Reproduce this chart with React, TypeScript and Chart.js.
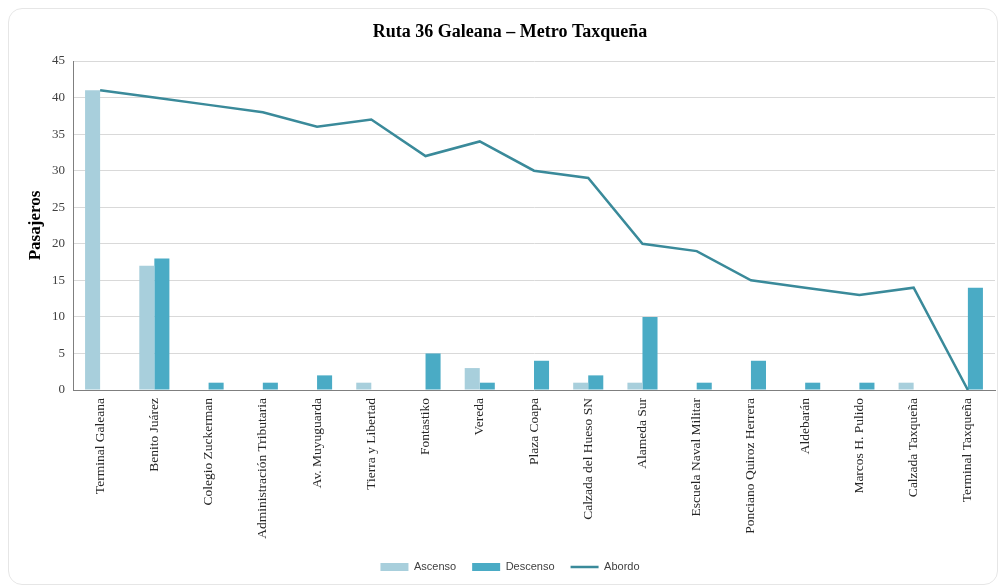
import React, { useEffect, useRef } from "react";
import { Chart, registerables } from "chart.js";

Chart.register(...registerables);

const categories = [
  "Terminal Galeana",
  "Benito Juárez",
  "Colegio Zuckerman",
  "Administración Tributaria",
  "Av. Muyuguarda",
  "Tierra y Libertad",
  "Fontastiko",
  "Vereda",
  "Plaza Coapa",
  "Calzada del Hueso SN",
  "Alameda Sur",
  "Escuela Naval Militar",
  "Ponciano Quiroz Herrera",
  "Aldebarán",
  "Marcos H. Pulido",
  "Calzada Taxqueña",
  "Terminal Taxqueña",
];

const ascenso = [41, 17, 0, 0, 0, 1, 0, 3, 0, 1, 1, 0, 0, 0, 0, 1, 0];
const descenso = [0, 18, 1, 1, 2, 0, 5, 1, 4, 2, 10, 1, 4, 1, 1, 0, 14];
const abordo = [41, 40, 39, 38, 36, 37, 32, 34, 30, 29, 20, 19, 15, 14, 13, 14, 0];

const yTicks = [0, 5, 10, 15, 20, 25, 30, 35, 40, 45];

export default function App() {
  const ref = useRef<HTMLCanvasElement | null>(null);

  useEffect(() => {
    if (!ref.current) return;
    const chart = new Chart(ref.current, {
      type: "bar",
      data: {
        labels: categories,
        datasets: [
          {
            type: "bar",
            label: "Ascenso",
            data: ascenso,
            backgroundColor: "#a8cfdc",
            borderWidth: 0,
            barPercentage: 1,
            categoryPercentage: 0.555,
            order: 1,
          },
          {
            type: "bar",
            label: "Descenso",
            data: descenso,
            backgroundColor: "#4aabc5",
            borderWidth: 0,
            barPercentage: 1,
            categoryPercentage: 0.555,
            order: 1,
          },
          {
            type: "line",
            label: "Abordo",
            data: abordo,
            borderColor: "#3a8a9a",
            backgroundColor: "#3a8a9a",
            borderWidth: 2.5,
            pointRadius: 0,
            tension: 0,
            fill: false,
            order: 0,
          } as any,
        ],
      },
      options: {
        responsive: false,
        animation: false,
        layout: { padding: { left: 25, right: 5, top: 0, bottom: 3.5 } },
        plugins: {
          title: {
            display: true,
            text: "Ruta 36 Galeana – Metro Taxqueña",
            color: "#000",
            font: { family: "'Liberation Serif', serif", size: 18, weight: "bold" },
            padding: { top: 22, bottom: 17.4 },
          },
          legend: {
            position: "bottom",
            labels: {
              usePointStyle: true,
              pointStyleWidth: 28,
              boxHeight: 8,
              padding: 16,
              color: "#404040",
              font: { family: "'Liberation Sans', sans-serif", size: 11 },
              sort: (a: any, b: any) => a.datasetIndex - b.datasetIndex,
              generateLabels: (c: any) => {
                const items = Chart.defaults.plugins.legend.labels.generateLabels(c);
                return items.map((it: any) => {
                  if (it.datasetIndex === 2) {
                    return { ...it, pointStyle: "line", lineWidth: 2.5, strokeStyle: "#3a8a9a" };
                  }
                  return { ...it, pointStyle: "rect", lineWidth: 0 };
                });
              },
            },
          },
          tooltip: { enabled: false },
        },
        scales: {
          x: {
            offset: true,
            grid: { display: false, drawTicks: false },
            border: { display: true, color: "#7f7f7f", width: 1 },
            ticks: {
              autoSkip: false,
              minRotation: 90,
              maxRotation: 90,
              padding: 8,
              color: "#262626",
              font: { family: "'Liberation Serif', serif", size: 13.5 },
            },
            afterFit: (scale: any) => {
              scale.height = 155.5;
            },
          },
          y: {
            min: 0,
            max: 45,
            afterBuildTicks: (scale: any) => {
              scale.ticks = yTicks.map((v) => ({ value: v }));
            },
            grid: { color: "#d9d9d9", drawTicks: false, lineWidth: 1 },
            border: { display: true, color: "#7f7f7f", width: 1 },
            ticks: {
              padding: 8,
              color: "#404040",
              font: { family: "'Liberation Serif', serif", size: 13 },
            },
            title: {
              display: true,
              text: "Pasajeros",
              color: "#000",
              padding: { top: 0, bottom: 0 },
              font: { family: "'Liberation Serif', serif", size: 17, weight: "bold" },
            },
            afterFit: (scale: any) => {
              scale.width = 48;
            },
          },
        },
      } as any,
    });
    return () => chart.destroy();
  }, []);

  return (
    <div>
      <div
        style={{
          position: "fixed",
          left: 8,
          top: 8,
          width: 990,
          height: 577,
          border: "1px solid #e6e6e6",
          borderRadius: 14,
          background: "#fff",
          boxSizing: "border-box",
        }}
      />
      <canvas
        ref={ref}
        width={1000}
        height={586}
        style={{ position: "fixed", left: 0, top: 0, width: 1000, height: 586 }}
      />
    </div>
  );
}
